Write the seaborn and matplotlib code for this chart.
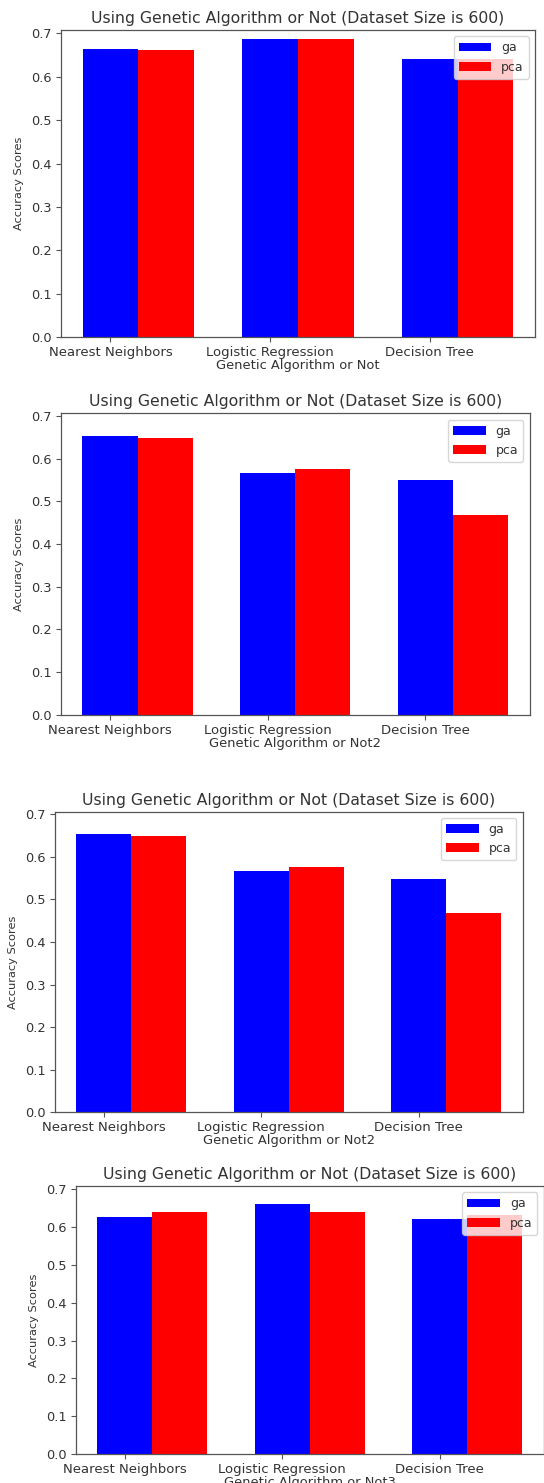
import matplotlib
matplotlib.use("Agg")
import matplotlib.pyplot as plt
import seaborn as sns
import pandas as pd

# ---- data ----
categories = ["Nearest Neighbors", "Logistic Regression", "Decision Tree"]
series_names = ["ga", "pca"]
ga_1 = [0.665, 0.687, 0.640]
pca_1 = [0.661, 0.687, 0.641]
ga_2 = [0.653, 0.567, 0.549]
pca_2 = [0.649, 0.576, 0.469]
ga_3 = [0.653, 0.567, 0.549]
pca_3 = [0.649, 0.576, 0.469]
ga_4 = [0.626, 0.660, 0.621]
pca_4 = [0.640, 0.640, 0.632]
titles = ["Using Genetic Algorithm or Not (Dataset Size is 600)"] * 4
xlabels = ["Genetic Algorithm or Not", "Genetic Algorithm or Not2",
           "Genetic Algorithm or Not2", "Genetic Algorithm or Not3"]
ylabel = "Accuracy Scores"
yticks = [0.0, 0.1, 0.2, 0.3, 0.4, 0.5, 0.6, 0.7]
ytick_labels = ["0.0", "0.1", "0.2", "0.3", "0.4", "0.5", "0.6", "0.7"]
colors = {"ga": "#0000ff", "pca": "#ff0000"}

panels = [(ga_1, pca_1), (ga_2, pca_2), (ga_3, pca_3), (ga_4, pca_4)]

# axes boxes in pixels: left, top, right, bottom
W, H = 544, 1483
boxes = [
    (61, 30, 535, 337.3),
    (61, 413.3, 529.5, 714.7),
    (55, 811.7, 522.6, 1112.3),
    (75.7, 1186, 543.7, 1454),
]
ymaxes = [0.7076, 0.7063, 0.706, 0.7087]

TXT = "#333333"
plt.rcParams["font.family"] = ["DejaVu Sans"]
plt.rcParams["text.color"] = TXT
plt.rcParams["axes.labelcolor"] = TXT
plt.rcParams["xtick.color"] = TXT
plt.rcParams["ytick.color"] = TXT

fig = plt.figure(figsize=(W / 100, H / 100), dpi=100)

for i, ((ga, pca), (l, t, r, b)) in enumerate(zip(panels, boxes)):
    ax = fig.add_axes([l / W, 1 - b / H, (r - l) / W, (b - t) / H])
    df = pd.DataFrame({
        "category": categories * 2,
        "method": ["ga"] * 3 + ["pca"] * 3,
        "score": list(ga) + list(pca),
    })
    sns.barplot(data=df, x="category", y="score", hue="method",
                hue_order=series_names, order=categories,
                palette=colors, saturation=1, width=0.7,
                linewidth=0, errorbar=None, ax=ax)
    ax.set_xticks([k - 0.175 for k in range(len(categories))])
    ax.set_xticklabels(categories, fontsize=9.5)
    ax.set_xlim(-0.485, 2.485)
    ax.set_ylim(0, ymaxes[i])
    ax.set_yticks(yticks)
    ax.set_yticklabels(ytick_labels, fontsize=9.3)
    ax.set_title(titles[i], fontsize=11.3, color=TXT, pad=5)
    ax.set_xlabel(xlabels[i], fontsize=9.4, labelpad=0)
    ax.set_ylabel(ylabel, fontsize=8.2, labelpad=5)
    for sp in ax.spines.values():
        sp.set_visible(True)
        sp.set_color("#555555")
        sp.set_linewidth(0.9)
    ax.tick_params(length=3.5, width=0.8, color="#555555", pad=3)
    handles, labels = ax.get_legend_handles_labels()
    ax.legend(handles, labels, loc="upper right", fontsize=9,
              handlelength=2.6, framealpha=0.8)

fig.savefig("out.png", dpi=100)
